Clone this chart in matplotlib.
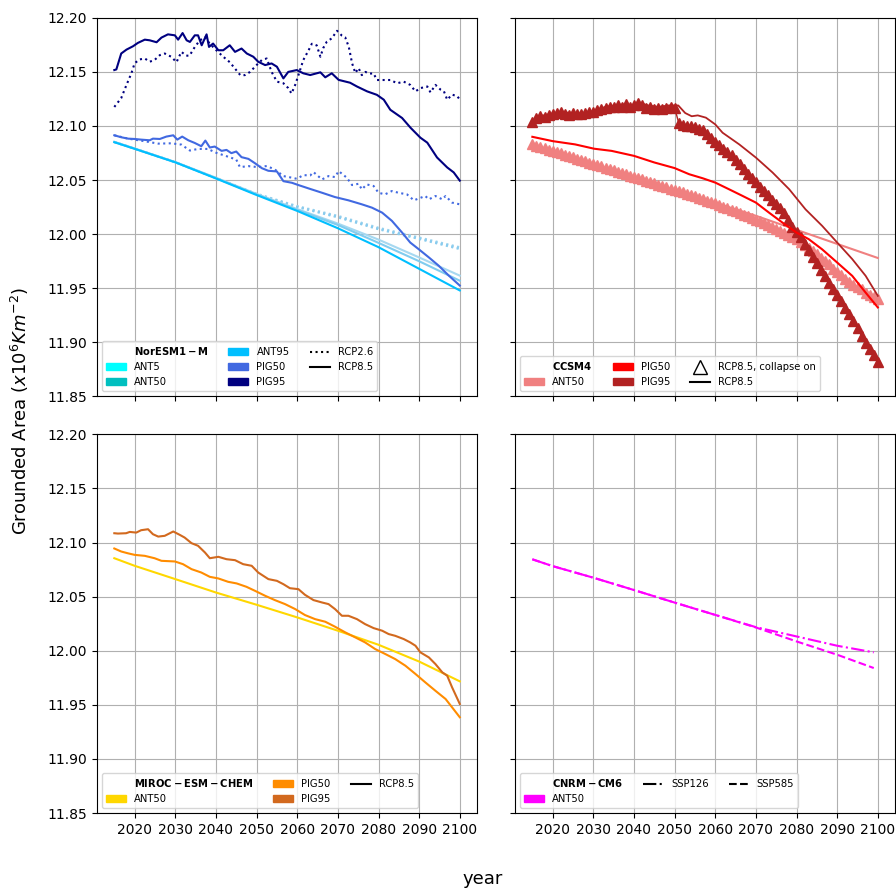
import matplotlib
matplotlib.use("Agg")
import matplotlib.pyplot as plt
from matplotlib.lines import Line2D
from matplotlib.patches import Patch

# ---- NorESM1-M (top left) ----
nor_ant_yr = [2015, 2020, 2030, 2040, 2050, 2060, 2070, 2080, 2090, 2100]
nor_ant5_85 = [12.0853, 12.0791, 12.0666, 12.0521, 12.0372, 12.0232, 12.0098, 11.9950, 11.9785, 11.9617]
nor_ant50_85 = [12.0853, 12.0791, 12.0666, 12.0519, 12.0368, 12.0225, 12.0085, 11.9920, 11.9750, 11.9570]
nor_ant95_85 = [12.0850, 12.0789, 12.0664, 12.0515, 12.0362, 12.0215, 12.0055, 11.9880, 11.9680, 11.9480]
nor_ant5_26 = [12.0853, 12.0791, 12.0666, 12.0521, 12.0375, 12.0260, 12.0170, 12.0060, 11.9970, 11.9880]
nor_ant50_26 = [12.0853, 12.0791, 12.0666, 12.0520, 12.0372, 12.0255, 12.0162, 12.0052, 11.9962, 11.9872]
nor_ant95_26 = [12.0851, 12.0790, 12.0665, 12.0518, 12.0368, 12.0250, 12.0155, 12.0045, 11.9955, 11.9862]

nor_pig50_85 = [
    (2015, 12.0914), (2016.7, 12.0896), (2018.4, 12.0883), (2020, 12.088), (2021.6, 12.0874),
    (2023.7, 12.0868), (2024.5, 12.0883), (2026.2, 12.088), (2027.8, 12.0902), (2029.5, 12.0914),
    (2030.5, 12.0874), (2031.7, 12.0902), (2033.2, 12.0868), (2034.8, 12.0843), (2036.4, 12.0813),
    (2037.4, 12.0865), (2038.5, 12.0801), (2039.7, 12.081), (2041.4, 12.077), (2042.6, 12.0779),
    (2043.8, 12.0749), (2045, 12.0764), (2046.3, 12.0712), (2048, 12.0696), (2049.6, 12.0656),
    (2051.3, 12.061), (2052.9, 12.0586), (2055, 12.058), (2056.6, 12.049), (2058.7, 12.0475),
    (2060.3, 12.0454), (2062.8, 12.0423), (2066.1, 12.0383), (2069.3, 12.0343), (2072.6, 12.0313),
    (2075.9, 12.0276), (2078.4, 12.0245), (2080.9, 12.0199), (2083.3, 12.0123), (2085.8, 12.0015),
    (2087.8, 11.9923), (2089.9, 11.9861), (2092.4, 11.9785), (2094.8, 11.9709), (2097.3, 11.9617),
    (2100, 11.9525)]
nor_pig50_26 = [
    (2015, 12.0914), (2018.4, 12.0883), (2022.5, 12.0859), (2025.8, 12.0837), (2029, 12.084),
    (2031.5, 12.0828), (2033.6, 12.0773), (2035.6, 12.0788), (2038, 12.0788), (2040.1, 12.0752),
    (2042.6, 12.0721), (2045, 12.069), (2045.9, 12.062), (2048, 12.0629), (2050.4, 12.062),
    (2052.5, 12.063), (2054.5, 12.0598), (2056.6, 12.0537), (2058.7, 12.0522), (2059.9, 12.0512),
    (2061.5, 12.0546), (2063.2, 12.0543), (2064, 12.0574), (2066.1, 12.0506), (2067.7, 12.0537),
    (2069.3, 12.0528), (2070.2, 12.0583), (2072.2, 12.0522), (2073.5, 12.0454), (2075.1, 12.0466),
    (2075.9, 12.0414), (2077.1, 12.046), (2078.8, 12.0445), (2080, 12.0383), (2081.6, 12.0368),
    (2083.3, 12.0399), (2084.9, 12.0383), (2087, 12.0368), (2088.7, 12.0313), (2090.4, 12.0337),
    (2091.5, 12.0353), (2092.4, 12.0322), (2094, 12.0353), (2095.7, 12.0322), (2096.5, 12.0353),
    (2098.1, 12.0292), (2100, 12.0276)]
nor_pig95_85 = [
    (2015, 12.1517), (2015.5, 12.1523), (2016.7, 12.167), (2018, 12.1706), (2019.6, 12.1737),
    (2020.8, 12.1768), (2022.5, 12.1798), (2023.7, 12.1792), (2025.4, 12.1774), (2026.6, 12.1817),
    (2028.2, 12.1847), (2029.9, 12.1838), (2030.7, 12.1798), (2031.8, 12.1859), (2032.8, 12.1792),
    (2033.6, 12.1777), (2034.8, 12.1838), (2035.6, 12.1838), (2036.5, 12.1746), (2037.7, 12.1847),
    (2038.3, 12.1731), (2039.3, 12.1762), (2040.6, 12.170), (2041.8, 12.170), (2043.4, 12.1746),
    (2044.7, 12.1685), (2046.3, 12.1716), (2047.6, 12.167), (2049.2, 12.164), (2050.4, 12.1594),
    (2052.1, 12.1563), (2053.7, 12.1578), (2055, 12.1548), (2056.6, 12.144), (2057.8, 12.150),
    (2059.9, 12.1517), (2061.5, 12.1487), (2063.2, 12.1471), (2065.7, 12.1496), (2066.9, 12.145),
    (2068.5, 12.1487), (2070.2, 12.1426), (2073, 12.140), (2074.7, 12.1365), (2077.2, 12.132),
    (2079.6, 12.1288), (2081.3, 12.1243), (2082.9, 12.115), (2085.8, 12.1074), (2087.9, 12.0983),
    (2090.3, 12.0892), (2092, 12.0846), (2094.4, 12.0709), (2096.9, 12.0617), (2098.5, 12.0571),
    (2100, 12.0495)]
nor_pig95_26 = [
    (2015, 12.1176), (2016.7, 12.1258), (2018, 12.138), (2019.2, 12.1487), (2020, 12.158),
    (2021.2, 12.1615), (2022.5, 12.1624), (2023.7, 12.1594), (2024.9, 12.161), (2026.2, 12.1655),
    (2027.4, 12.167), (2029, 12.164), (2030.3, 12.159), (2031.5, 12.1685), (2032.7, 12.165),
    (2033.5, 12.165), (2034.8, 12.173), (2036, 12.179), (2037.3, 12.182), (2038.5, 12.176),
    (2040.1, 12.170), (2041.8, 12.164), (2043.4, 12.159), (2044.7, 12.153), (2046, 12.147),
    (2047.1, 12.147), (2048.4, 12.150), (2050, 12.1563), (2051.3, 12.161), (2052.5, 12.1624),
    (2053.7, 12.150), (2055, 12.141), (2056.6, 12.1395), (2057.8, 12.135), (2058.6, 12.130),
    (2059.5, 12.138), (2060.3, 12.147), (2061.5, 12.161), (2062.8, 12.170), (2063.6, 12.176),
    (2064.8, 12.1745), (2065.7, 12.164), (2066.4, 12.172), (2067.3, 12.178), (2068.5, 12.181),
    (2069.8, 12.188), (2071, 12.1835), (2071.8, 12.182), (2072.7, 12.173), (2073.5, 12.158),
    (2074.3, 12.149), (2075.1, 12.1535), (2075.9, 12.147), (2076.8, 12.150), (2077.6, 12.1485),
    (2078.8, 12.1485), (2079.6, 12.1425), (2081.2, 12.1425), (2082.9, 12.1425), (2084.6, 12.1395),
    (2086.2, 12.141), (2087.8, 12.138), (2089.1, 12.132), (2090.3, 12.135), (2092, 12.1365),
    (2092.8, 12.131), (2094, 12.138), (2095.3, 12.1335), (2096.1, 12.132), (2096.9, 12.1243),
    (2098.1, 12.129), (2099.4, 12.1275), (2100, 12.1243)]

# ---- CCSM4 (top right) ----
ccsm_ant50 = [(2015, 12.082), (2020, 12.076), (2030, 12.064), (2040, 12.052), (2050, 12.0405),
              (2060, 12.029), (2070, 12.017), (2080, 12.004), (2090, 11.991), (2100, 11.978)]
ccsm_pig50 = [
    (2015, 12.090), (2020, 12.086), (2025.5, 12.083), (2030.2, 12.079), (2034.5, 12.077),
    (2040, 12.0724), (2045, 12.0663), (2050, 12.0611), (2053.6, 12.0554), (2056.9, 12.0517),
    (2060, 12.0477), (2063.4, 12.0415), (2066.7, 12.0354), (2070, 12.0292), (2073.2, 12.020),
    (2076.5, 12.0108), (2080, 12.0015), (2083, 11.9954), (2086.3, 11.986), (2090, 11.9738),
    (2093.7, 11.9615), (2097, 11.946), (2100, 11.9323)]
ccsm_pig95 = [
    (2015, 12.1047), (2017.5, 12.1096), (2020, 12.1114), (2022.3, 12.1127), (2024.7, 12.112),
    (2027.2, 12.1114), (2030.2, 12.1136), (2032.9, 12.1176), (2035.3, 12.119), (2037.8, 12.120),
    (2039.4, 12.119), (2041, 12.1216), (2043.5, 12.119), (2046, 12.1176), (2048.5, 12.119),
    (2050.9, 12.119), (2052.6, 12.112), (2054.2, 12.109), (2055.7, 12.1098), (2057.7, 12.1077),
    (2060, 12.1015), (2061.8, 12.0938), (2065.9, 12.083), (2070, 12.0708), (2074.1, 12.057),
    (2078.2, 12.0415), (2082.2, 12.023), (2086.3, 12.0077), (2090, 11.9923), (2093.7, 11.977),
    (2097, 11.9615), (2100, 11.943)]
# collapse-on runs, one value per year 2015..2100
collapse_years = list(range(2015, 2101))
ccsm_ant50_col = [
    12.083, 12.0818, 12.0806, 12.0794, 12.0782, 12.077, 12.0758, 12.0746, 12.0734, 12.0722,
    12.071, 12.0698, 12.0686, 12.0674, 12.0662, 12.065, 12.0638, 12.0626, 12.0614, 12.0602,
    12.059, 12.0578, 12.0566, 12.0554, 12.0542, 12.053, 12.0518, 12.0506, 12.0494, 12.0482,
    12.047, 12.0458, 12.0446, 12.0434, 12.0422, 12.041, 12.0398, 12.0386, 12.0374, 12.0362,
    12.035, 12.0337, 12.0324, 12.0311, 12.0298, 12.0285, 12.027, 12.0255, 12.024, 12.0225,
    12.021, 12.0195, 12.018, 12.0165, 12.015, 12.0135, 12.0118, 12.0101, 12.0084, 12.0067,
    12.005, 12.0032, 12.0014, 11.9996, 11.9978, 11.996, 11.9932, 11.9904, 11.9876, 11.9848,
    11.982, 11.978, 11.975, 11.972, 11.968, 11.9646, 11.962, 11.959, 11.956, 11.953,
    11.951, 11.949, 11.946, 11.944, 11.942, 11.940]
ccsm_pig95_col = [
    12.104, 12.107, 12.109, 12.108, 12.110, 12.111, 12.112, 12.113, 12.111, 12.110,
    12.112, 12.111, 12.111, 12.112, 12.113, 12.113, 12.115, 12.116, 12.117, 12.118,
    12.118, 12.119, 12.118, 12.120, 12.118, 12.119, 12.121, 12.119, 12.117, 12.118,
    12.116, 12.117, 12.116, 12.117, 12.118, 12.117, 12.103, 12.101, 12.100, 12.100,
    12.099, 12.097, 12.096, 12.093, 12.089, 12.085, 12.082, 12.079, 12.076, 12.073,
    12.069, 12.065, 12.060, 12.056, 12.052, 12.048, 12.044, 12.040, 12.036, 12.032,
    12.028, 12.024, 12.020, 12.013, 12.007, 12.002, 11.997, 11.991, 11.985, 11.979,
    11.973, 11.967, 11.961, 11.955, 11.949, 11.944, 11.938, 11.932, 11.926, 11.920,
    11.913, 11.906, 11.899, 11.894, 11.888, 11.882]

# ---- MIROC-ESM-CHEM (bottom left) ----
miroc_ant50 = [(2015, 12.0855), (2020, 12.0785), (2030, 12.0662), (2040, 12.0538), (2050, 12.0425),
               (2060, 12.0308), (2070, 12.0185), (2080, 12.0055), (2090, 11.990), (2100, 11.9717)]
miroc_pig50 = [
    (2015, 12.0945), (2016.7, 12.0917), (2018.4, 12.090), (2020, 12.0886), (2022.5, 12.0877),
    (2024.9, 12.0855), (2026.6, 12.0831), (2029.9, 12.0825), (2031.9, 12.080), (2034, 12.0754),
    (2036.4, 12.0723), (2038.5, 12.0683), (2040.6, 12.0668), (2043, 12.0637), (2045.1, 12.0622),
    (2047.5, 12.0591), (2049.6, 12.0554), (2052.1, 12.0508), (2054.5, 12.0468), (2057, 12.0431),
    (2059.5, 12.0385), (2061.9, 12.033), (2064.4, 12.0292), (2066.9, 12.0268), (2069.3, 12.0222),
    (2071.8, 12.017), (2074.3, 12.0123), (2076.7, 12.0077), (2079.2, 12.0015), (2081.7, 11.9969),
    (2084.1, 11.9923), (2086.6, 11.9862), (2089.1, 11.9785), (2091.5, 11.9708), (2094, 11.963),
    (2096.5, 11.9554), (2098.1, 11.9477), (2100, 11.9385)]
miroc_pig95 = [
    (2015, 12.1086), (2015.9, 12.1083), (2017.9, 12.1086), (2018.8, 12.1098), (2020.4, 12.1092),
    (2021.6, 12.1114), (2023.3, 12.1123), (2024.5, 12.1077), (2025.8, 12.1055), (2027.4, 12.1062),
    (2029.5, 12.1102), (2031.1, 12.1071), (2032.3, 12.1046), (2034, 12.0994), (2035.6, 12.097),
    (2037.3, 12.0908), (2038.5, 12.0855), (2040.6, 12.0868), (2042.6, 12.0846), (2044.7, 12.0837),
    (2046.7, 12.080), (2048.8, 12.0785), (2050.4, 12.0723), (2052.9, 12.0662), (2055, 12.0646),
    (2056.6, 12.0615), (2058.2, 12.0578), (2060.3, 12.0569), (2061.9, 12.0517), (2064, 12.0468),
    (2066.1, 12.0446), (2067.7, 12.0431), (2069.3, 12.0385), (2071, 12.0323), (2072.6, 12.0323),
    (2074.7, 12.0292), (2076.7, 12.0246), (2078.8, 12.0209), (2080.9, 12.0185), (2082.5, 12.0154),
    (2084.1, 12.0138), (2086.2, 12.0108), (2087.8, 12.0077), (2089.1, 12.0046), (2090.3, 11.9985),
    (2092.4, 11.9938), (2094, 11.9877), (2095.7, 11.980), (2096.9, 11.9769), (2098.1, 11.9662),
    (2100, 11.9508)]

# ---- CNRM-CM6 (bottom right) ----
cnrm_yr = [2015, 2020, 2030, 2040, 2050, 2060, 2070, 2080, 2090, 2099]
cnrm_ssp126 = [12.0845, 12.0782, 12.0675, 12.0561, 12.0445, 12.0331, 12.0218, 12.0132, 12.0046, 11.9985]
cnrm_ssp585 = [12.0845, 12.0782, 12.0675, 12.0561, 12.0445, 12.0331, 12.0215, 12.0086, 11.9963, 11.984]

xticks = list(range(2020, 2101, 10))
yticks = [11.85, 11.90, 11.95, 12.00, 12.05, 12.10, 12.15, 12.20]


def xy(pairs):
    return [p[0] for p in pairs], [p[1] for p in pairs]


def header(name):
    return Line2D([], [], ls="none", label=r"$\bf{" + name + "}$")


fig, axes = plt.subplots(2, 2, figsize=(8.96, 8.90), dpi=100, sharex=True, sharey=True)
fig.subplots_adjust(left=0.1083, right=0.999, top=0.98, bottom=0.0865, wspace=0.1, hspace=0.1)

# top left
ax = axes[0, 0]
ax.plot(nor_ant_yr, nor_ant5_26, ":", color="#9ed4ee")
ax.plot(nor_ant_yr, nor_ant50_26, ":", color="#8ccdee")
ax.plot(nor_ant_yr, nor_ant95_26, ":", color="#88cbee")
ax.plot(nor_ant_yr, nor_ant5_85, color="#a6d8f0")
ax.plot(nor_ant_yr, nor_ant50_85, color="#80ccef")
ax.plot(nor_ant_yr, nor_ant95_85, color="deepskyblue")
ax.plot(*xy(nor_pig50_26), ":", color="royalblue")
ax.plot(*xy(nor_pig50_85), color="royalblue")
ax.plot(*xy(nor_pig95_26), ":", color="navy")
ax.plot(*xy(nor_pig95_85), color="navy")
handles = [header("NorESM1-M"),
           Patch(color="cyan", label="ANT5"),
           Patch(color="c", label="ANT50"),
           Patch(color="deepskyblue", label="ANT95"),
           Patch(color="royalblue", label="PIG50"),
           Patch(color="navy", label="PIG95"),
           Line2D([], [], ls=":", color="k", label="RCP2.6"),
           Line2D([], [], ls="-", color="k", label="RCP8.5")]
ax.legend(handles=handles, loc="lower left", ncol=3, fontsize=7.2)

# top right
ax = axes[0, 1]
ax.plot(collapse_years, ccsm_ant50_col, "-^", color="lightcoral", ms=6.5, lw=1)
ax.plot(*xy(ccsm_ant50), color="lightcoral")
ax.plot(collapse_years, ccsm_pig95_col, "-^", color="firebrick", ms=6.5, lw=1)
ax.plot(*xy(ccsm_pig95), color="firebrick", lw=1.3)
ax.plot(*xy(ccsm_pig50), color="red")
handles = [header("CCSM4"),
           Patch(color="lightcoral", label="ANT50"),
           Patch(color="red", label="PIG50"),
           Patch(color="firebrick", label="PIG95"),
           Line2D([], [], ls="none", marker="^", ms=10, mfc="white", mec="k",
                  label="RCP8.5, collapse on"),
           Line2D([], [], ls="-", color="k", label="RCP8.5")]
ax.legend(handles=handles, loc="lower left", ncol=3, fontsize=7.2)

# bottom left
ax = axes[1, 0]
ax.plot(*xy(miroc_ant50), color="gold")
ax.plot(*xy(miroc_pig50), color="darkorange")
ax.plot(*xy(miroc_pig95), color="chocolate")
handles = [header("MIROC-ESM-CHEM"),
           Patch(color="gold", label="ANT50"),
           Patch(color="darkorange", label="PIG50"),
           Patch(color="chocolate", label="PIG95"),
           Line2D([], [], ls="-", color="k", label="RCP8.5")]
ax.legend(handles=handles, loc="lower left", ncol=3, fontsize=7.2)

# bottom right
ax = axes[1, 1]
ax.plot(cnrm_yr, cnrm_ssp126, "-.", color="magenta")
ax.plot(cnrm_yr, cnrm_ssp585, "--", color="magenta")
handles = [header("CNRM-CM6"),
           Patch(color="magenta", label="ANT50"),
           Line2D([], [], ls="-.", color="k", label="SSP126"),
           Line2D([], [], ls="--", color="k", label="SSP585")]
ax.legend(handles=handles, loc="lower left", ncol=3, fontsize=7.2)

for ax in axes.flat:
    ax.grid(True)
    ax.set_xticks(xticks)
    ax.set_yticks(yticks)
    ax.set_ylim(11.85, 12.20)
axes[0, 0].set_yticklabels(["%.2f" % t for t in yticks])

fig.text(0.022, 0.538, r"Grounded Area ($x10^6 Km^{-2}$)", rotation=90,
         ha="center", va="center", fontsize=13)
fig.text(0.539, 0.012, "year", ha="center", va="center", fontsize=13)

fig.savefig("out.png", dpi=100)
